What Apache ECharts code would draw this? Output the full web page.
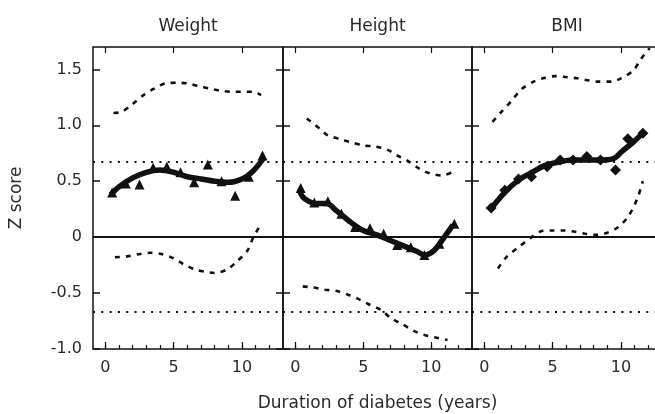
<!DOCTYPE html>
<html>
<head>
<meta charset="utf-8">
<script src="https://cdn.jsdelivr.net/npm/echarts@6/dist/echarts.min.js"></script>
<style>
  html, body { margin: 0; padding: 0; background: #fff; }
  #main { width: 655px; height: 414px; }
</style>
</head>
<body>
<div id="main"></div>
<script>
var panelTitles = ["Weight", "Height", "BMI"];
var xTicks = [0, 1, 2, 3, 4, 5, 6, 7, 8, 9, 10, 11, 12];
var xLabels = [0, 5, 10];
var yLabels = [-1, -0.5, 0, 0.5, 1, 1.5];
var refLines = [0.67, -0.67];

// Weight
var weightPoints = [[0.5, 0.40], [1.5, 0.48], [2.5, 0.47], [3.5, 0.62], [4.5, 0.63], [5.5, 0.58],
  [6.5, 0.49], [7.5, 0.65], [8.5, 0.50], [9.5, 0.37], [10.5, 0.54], [11.5, 0.73]];
var weightFit = [[0.4, 0.38], [1, 0.45], [2, 0.53], [3, 0.58], [4, 0.60], [5, 0.58], [6, 0.54],
  [7, 0.52], [8, 0.50], [9, 0.49], [10, 0.52], [10.8, 0.59], [11.6, 0.71]];
var weightUpper = [[0.6, 1.11], [1.2, 1.12], [2.0, 1.19], [2.8, 1.27], [3.6, 1.33], [4.4, 1.375],
  [5.2, 1.38], [6.0, 1.375], [6.8, 1.35], [7.6, 1.33], [8.4, 1.31], [9.2, 1.30], [9.9, 1.30],
  [10.8, 1.30], [11.4, 1.27]];
var weightLower = [[0.7, -0.18], [1.7, -0.17], [2.55, -0.15], [3.3, -0.14], [4.1, -0.15],
  [5.0, -0.19], [5.7, -0.24], [6.6, -0.29], [7.3, -0.31], [8.0, -0.32], [8.9, -0.29],
  [9.6, -0.22], [10.4, -0.12], [10.8, -0.01], [11.3, 0.10]];

// Height
var heightPoints = [[0.4, 0.44], [1.4, 0.31], [2.4, 0.32], [3.4, 0.21], [4.4, 0.09], [5.5, 0.08],
  [6.5, 0.03], [7.5, -0.07], [8.5, -0.09], [9.5, -0.16], [10.6, -0.06], [11.7, 0.12]];
var heightFit = [[0.3, 0.42], [0.55, 0.36], [1.0, 0.32], [1.5, 0.30], [2.3, 0.30], [3.0, 0.24],
  [4.0, 0.14], [5.0, 0.06], [6.0, 0.02], [7.0, -0.03], [8.0, -0.08], [9.0, -0.13], [9.5, -0.16],
  [10.2, -0.12], [10.9, -0.01], [11.6, 0.11]];
var heightUpper = [[0.85, 1.06], [1.8, 0.97], [2.4, 0.91], [3.2, 0.88], [4.05, 0.85], [5.0, 0.82],
  [5.9, 0.81], [6.8, 0.78], [7.5, 0.73], [8.3, 0.68], [9.15, 0.61], [9.9, 0.57], [10.8, 0.55],
  [11.5, 0.58]];
var heightLower = [[0.55, -0.44], [1.3, -0.45], [2.2, -0.47], [3.0, -0.48], [3.8, -0.51],
  [4.6, -0.55], [5.4, -0.60], [6.3, -0.65], [7.0, -0.72], [7.9, -0.78], [8.75, -0.84],
  [9.5, -0.875], [10.4, -0.90], [11.2, -0.92]];

// BMI
var bmiPoints = [[0.5, 0.26], [1.5, 0.42], [2.5, 0.52], [3.45, 0.54], [4.6, 0.63], [5.55, 0.69],
  [6.5, 0.69], [7.5, 0.72], [8.5, 0.69], [9.6, 0.60], [10.5, 0.88], [11.6, 0.93]];
var bmiFit = [[0.4, 0.24], [1.5, 0.40], [2.5, 0.51], [3.5, 0.58], [4.4, 0.64], [5.4, 0.67],
  [6.4, 0.69], [7.4, 0.69], [8.4, 0.69], [9.4, 0.70], [10.1, 0.77], [10.9, 0.85], [11.6, 0.93]];
var bmiUpper = [[0.6, 1.03], [1.25, 1.12], [2.0, 1.22], [2.7, 1.32], [3.6, 1.39], [4.3, 1.42],
  [5.2, 1.44], [6.05, 1.43], [6.8, 1.42], [7.7, 1.40], [8.4, 1.39], [9.3, 1.39], [10.0, 1.42],
  [10.9, 1.49], [11.5, 1.60], [12.1, 1.69]];
var bmiLower = [[1.0, -0.28], [1.6, -0.18], [2.5, -0.09], [3.35, -0.01], [4.1, 0.05], [4.9, 0.06],
  [5.8, 0.06], [6.55, 0.05], [7.4, 0.03], [8.2, 0.02], [9.0, 0.04], [9.8, 0.09], [10.5, 0.18],
  [11.0, 0.29], [11.3, 0.38], [11.6, 0.50]];

var panels = [
  { points: weightPoints, fit: weightFit, upper: weightUpper, lower: weightLower, symbol: "triangle", size: 10 },
  { points: heightPoints, fit: heightFit, upper: heightUpper, lower: heightLower, symbol: "triangle", size: 10 },
  { points: bmiPoints, fit: bmiFit, upper: bmiUpper, lower: bmiLower, symbol: "diamond", size: 11 }
];

var FONT = "DejaVu Sans";
var INK = "#111";
var TEXT = "#2a2a2a";
var gridLefts = [93, 283, 472];
var noLine = { show: false, onZero: false };

var chart = echarts.init(document.getElementById("main"));

var grids = [], xAxes = [], yAxes = [], series = [];

panels.forEach(function (p, i) {
  grids.push({
    left: gridLefts[i], top: 47, width: i === 1 ? 189 : 190, height: 302,
    outerBoundsMode: "none", containLabel: false,
    show: true, borderColor: INK, borderWidth: 1.5, backgroundColor: "transparent"
  });

  // bottom minor ticks
  xAxes.push({
    type: "value", gridIndex: i, position: "bottom", min: -0.9, max: 13,
    axisLine: noLine, splitLine: { show: false },
    axisTick: { show: true, inside: true, length: 4, customValues: xTicks, lineStyle: { color: INK, width: 1.2 } },
    axisLabel: { show: false }
  });
  // bottom major ticks + labels
  xAxes.push({
    type: "value", gridIndex: i, position: "bottom", min: -0.9, max: 13,
    name: i === 1 ? "Duration of diabetes (years)" : "",
    nameLocation: "middle", nameGap: 46,
    nameTextStyle: { fontFamily: FONT, fontSize: 17, color: TEXT },
    axisLine: noLine, splitLine: { show: false },
    axisTick: { show: true, inside: true, length: 7, customValues: xLabels, lineStyle: { color: INK, width: 1.2 } },
    axisLabel: { show: true, customValues: xLabels, margin: 11, fontFamily: FONT, fontSize: 16, color: TEXT }
  });
  // top ticks + panel title
  xAxes.push({
    type: "value", gridIndex: i, position: "top", min: -0.9, max: 13,
    name: panelTitles[i], nameLocation: "middle", nameGap: 12,
    nameTextStyle: { fontFamily: FONT, fontSize: 17, color: TEXT },
    axisLine: noLine, splitLine: { show: false },
    axisTick: { show: true, inside: true, length: 6, customValues: xLabels, lineStyle: { color: INK, width: 1.2 } },
    axisLabel: { show: false }
  });

  yAxes.push({
    type: "value", gridIndex: i, position: "left", min: -1, max: 1.7,
    name: i === 0 ? "Z score" : "", nameLocation: "middle", nameGap: 68, nameRotate: 90,
    nameTextStyle: { fontFamily: FONT, fontSize: 17, color: TEXT },
    axisLine: noLine, splitLine: { show: false },
    axisTick: { show: true, inside: true, length: 7, customValues: yLabels, lineStyle: { color: INK, width: 1.5 } },
    axisLabel: {
      show: i === 0, customValues: yLabels, margin: 11, fontFamily: FONT, fontSize: 16, color: TEXT,
      formatter: function (v) { return v === 0 ? "0" : v.toFixed(1); }
    }
  });
  yAxes.push({
    type: "value", gridIndex: i, position: "right", min: -1, max: 1.7,
    axisLine: noLine, splitLine: { show: false },
    axisTick: { show: true, inside: true, length: 7, customValues: yLabels, lineStyle: { color: INK, width: 1.5 } },
    axisLabel: { show: false }
  });

  var xi = i * 3, yi = i * 2;

  series.push({
    type: "line", xAxisIndex: xi, yAxisIndex: yi, data: p.upper, smooth: 0.3,
    showSymbol: false, lineStyle: { color: INK, width: 2.6, type: [5, 6] }, z: 3
  });
  series.push({
    type: "line", xAxisIndex: xi, yAxisIndex: yi, data: p.lower, smooth: 0.3,
    showSymbol: false, lineStyle: { color: INK, width: 2.6, type: [5, 6] }, z: 3
  });
  series.push({
    type: "line", xAxisIndex: xi, yAxisIndex: yi, data: p.fit, smooth: 0.35,
    showSymbol: false, lineStyle: { color: INK, width: 5.5 }, z: 4,
    markLine: {
      silent: true, symbol: ["none", "none"], label: { show: false },
      data: [
        { yAxis: 0, lineStyle: { color: INK, width: 2, type: "solid" } },
        { yAxis: refLines[0], lineStyle: { color: INK, width: 1.8, type: [2, 6.3] } },
        { yAxis: refLines[1], lineStyle: { color: INK, width: 1.8, type: [2, 6.3] } }
      ]
    }
  });
  series.push({
    type: "scatter", xAxisIndex: xi, yAxisIndex: yi, data: p.points,
    symbol: p.symbol, symbolSize: p.size, itemStyle: { color: INK, opacity: 1 }, z: 5
  });
});

chart.setOption({
  backgroundColor: "#fff",
  animation: false,
  grid: grids,
  xAxis: xAxes,
  yAxis: yAxes,
  series: series
});
</script>
</body>
</html>
